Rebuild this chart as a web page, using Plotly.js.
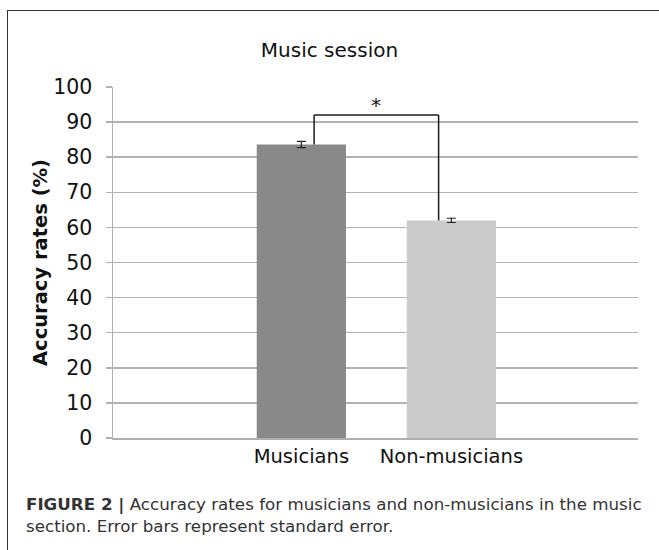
<!DOCTYPE html>
<html>
<head>
<meta charset="utf-8">
<script src="https://cdn.plot.ly/plotly-3.0.1.min.js"></script>
<style>
  html, body { margin: 0; padding: 0; background: #fff; }
  #wrap { position: relative; width: 659px; height: 550px; }
  #chart { width: 659px; height: 550px; }
  #frame { position: absolute; left: 7px; top: 10px; right: 0; bottom: 0;
           border-left: 1.5px solid #333; border-top: 1.5px solid #333; pointer-events: none; }
</style>
</head>
<body>
<div id="wrap">
  <div id="chart"></div>
  <div id="frame"></div>
</div>
<script>
// ---- data ----
const categories = ["Musicians", "Non-musicians"];
const accuracy = [83.6, 62.0];
const stdError = [0.9, 0.6];
const barColors = ["#898989", "#cbcbcb"];
const yTicks = [0, 10, 20, 30, 40, 50, 60, 70, 80, 90, 100];
const sigBracketLevel = 92;
const sigLabel = "*";
const chartTitle = "Music session";
const yTitle = "Accuracy rates (%)";
const captionBold = "FIGURE 2 |";
const captionText = " Accuracy rates for musicians and non-musicians in the music<br>section. Error bars represent standard error.";

// ---- chart ----
const xIdx = categories.map((_, i) => i);
const bar = {
  type: "bar",
  x: xIdx,
  y: accuracy,
  width: 0.595,
  marker: { color: barColors, line: { width: 0 } },
  error_y: { type: "data", array: stdError, visible: true, color: "#222", thickness: 1.2, width: 4.5 },
  hoverinfo: "skip"
};

const off = 0.085;
const x0 = xIdx[0] + off, x1 = xIdx[1] - off;
const lineStyle = { color: "#1a1a1a", width: 1.5 };
const shapes = [
  { type: "line", xref: "x", yref: "y", x0: x0, x1: x0, y0: accuracy[0], y1: sigBracketLevel, line: lineStyle },
  { type: "line", xref: "x", yref: "y", x0: x0, x1: x1, y0: sigBracketLevel, y1: sigBracketLevel, line: lineStyle },
  { type: "line", xref: "x", yref: "y", x0: x1, x1: x1, y0: sigBracketLevel, y1: accuracy[1], line: lineStyle }
];

const font = "DejaVu Sans, Liberation Sans, Arial, sans-serif";
const layout = {
  width: 659, height: 550,
  margin: { l: 113, r: 21, t: 87, b: 112 },
  paper_bgcolor: "#fff", plot_bgcolor: "#fff",
  showlegend: false,
  font: { family: font, color: "#111", size: 20 },
  title: { text: chartTitle, x: 0.5, xref: "container", y: 1 - 50 / 550, yref: "container",
           xanchor: "center", yanchor: "middle", font: { family: font, size: 20, color: "#111" } },
  xaxis: {
    range: [-1.2557, 2.2443],
    tickmode: "array", tickvals: xIdx, ticktext: categories,
    showgrid: false, zeroline: false,
    showline: true, linecolor: "#b0b0b0", linewidth: 1.5,
    ticks: "", tickfont: { family: font, size: 19.5, color: "#111" },
    fixedrange: true
  },
  yaxis: {
    range: [0, 100],
    tickmode: "array", tickvals: yTicks, ticktext: yTicks.map(String),
    showgrid: true, gridcolor: "#b3b3b3", gridwidth: 1.5,
    zeroline: false,
    showline: true, linecolor: "#b0b0b0", linewidth: 1.5,
    ticks: "outside", ticklen: 6, tickcolor: "#b0b0b0", tickwidth: 1.5,
    ticklabelstandoff: 9,
    tickfont: { family: font, size: 20.5, color: "#111" },
    title: { text: "<b>" + yTitle + "</b>", standoff: 0, font: { family: font, size: 19.5, color: "#111" } },
    fixedrange: true
  },
  shapes: shapes,
  annotations: [
    { text: sigLabel, xref: "x", yref: "y", x: (x0 + x1) / 2, y: sigBracketLevel - 1.0,
      showarrow: false, xanchor: "center", yanchor: "bottom", font: { family: font, size: 20, color: "#111" } },
    { text: "<b>" + captionBold + "</b>" + captionText, xref: "paper", yref: "paper",
      x: (24 - 113) / 525, y: (437.7 - 492) / 350.7, xanchor: "left", yanchor: "top", align: "left",
      showarrow: false, font: { family: font, size: 16.7, color: "#333" } }
  ]
};

Plotly.newPlot("chart", [bar], layout, { displayModeBar: false, staticPlot: true });
</script>
</body>
</html>
